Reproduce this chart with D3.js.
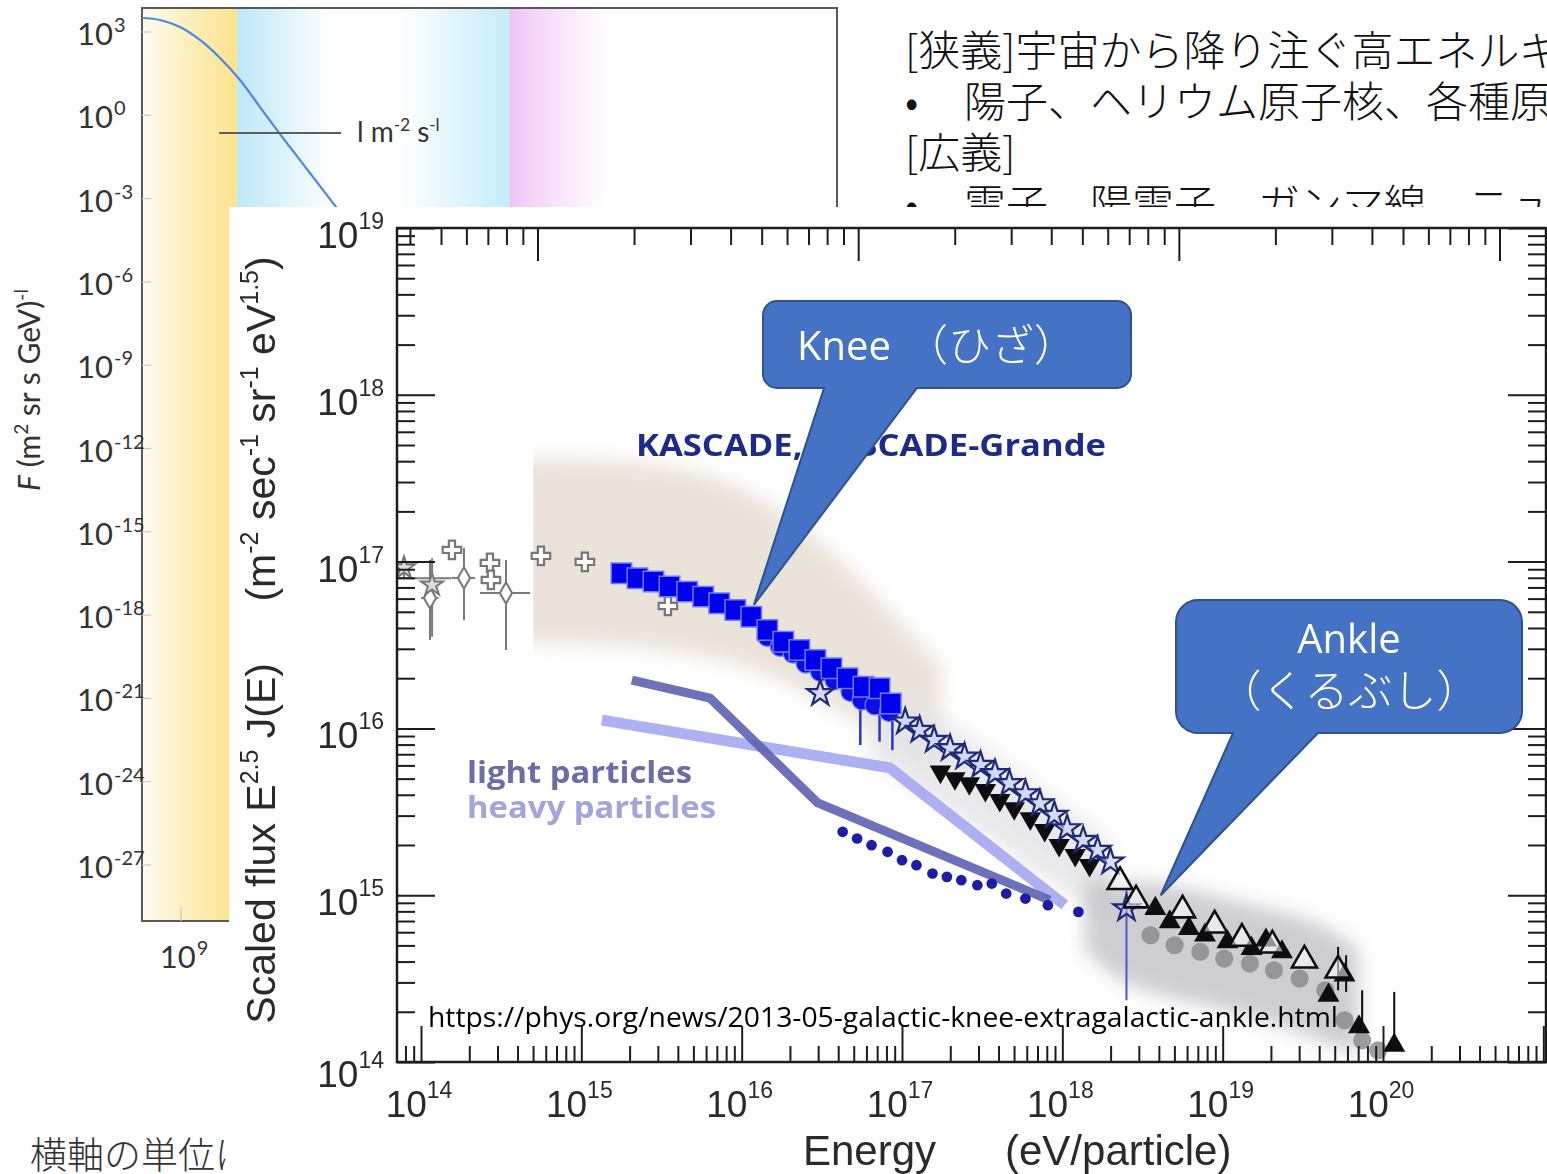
<!DOCTYPE html>
<html>
<head>
<meta charset="utf-8">
<script src="https://cdn.jsdelivr.net/npm/d3@7"></script>
<style>
  html, body { margin: 0; padding: 0; background: #fff; }
  svg { display: block; }
</style>
</head>
<body>
<svg id="chart" width="1547" height="1174"></svg>
<script>
// ---------------- data ----------------
// all-particle spectrum F(E) (background panel), log10 values
const spectrumLogE = [8.304, 8.625, 8.982, 9.339, 9.696, 10.054, 10.411, 10.768, 11.125, 11.839, 12.554];
const spectrumLogF = [3.505, 3.432, 3.180, 2.712, 2.063, 1.270, 0.297, -0.676, -1.613, -3.486, -5.360];
const fluxTickExps = [3, 0, -3, -6, -9, -12, -15, -18, -21, -24, -27];
const energyTickExpsBg = [9];
const bgRegionLogE = [[8.3, 10.0], [10.0, 14.875], [14.875, 16.6]];
const rateMarkLogE = [9.68, 11.86];
const rateMarkLogF = -0.64;

// scaled flux E^2.5 J(E) panel, log10 values
const energyTickExps = [14, 15, 16, 17, 18, 19, 20];
const scaledTickExps = [14, 15, 16, 17, 18, 19];

const crossLogE = [14.193, 14.430, 14.436, 14.748, 15.022, 15.540];
const crossLogF = [17.070, 16.992, 16.890, 17.034, 16.998, 16.734];
const diamondLogE = [14.056, 14.268, 14.530];
const diamondLogF = [16.782, 16.902, 16.812];
const diamondErrLo = [16.530, 16.650, 16.470];
const diamondErrHi = [17.010, 17.082, 17.010];
const diamondErrELo = [14.000, 14.193, 14.368];
const diamondErrEHi = [14.110, 14.337, 14.680];
const greyStarLogE = [13.894, 14.069];
const greyStarLogF = [16.962, 16.860];
const greyStarErrLo = [16.900, 16.550];
const greyStarErrHi = [17.020, 17.020];

const kascadeLogE = [15.25, 15.35, 15.45, 15.55, 15.66, 15.76, 15.86, 15.96, 16.06, 16.16, 16.26, 16.36, 16.46, 16.56, 16.66, 16.76, 16.86, 16.93];
const kascadeLogF = [16.93, 16.90, 16.88, 16.85, 16.82, 16.79, 16.75, 16.71, 16.67, 16.59, 16.52, 16.47, 16.41, 16.36, 16.30, 16.25, 16.24, 16.15];
const kascadeErrLogE = [16.74, 16.86, 16.94];
const kascadeErrLo = [15.90, 15.92, 15.87];
const kascadeErrHi = [16.23, 16.23, 16.17];
const grandeDotLogE = [16.16, 16.24, 16.32, 16.40, 16.49, 16.58, 16.68, 16.75, 16.83, 16.92];
const grandeDotLogF = [16.55, 16.49, 16.45, 16.39, 16.34, 16.29, 16.22, 16.17, 16.14, 16.10];

const grandeLogE = [16.49, 17.02, 17.11, 17.20, 17.30, 17.39, 17.49, 17.58, 17.67, 17.77, 17.86, 17.95, 18.03, 18.13, 18.22, 18.30, 18.40];
const grandeLogF = [16.21, 16.04, 15.99, 15.93, 15.88, 15.83, 15.78, 15.73, 15.67, 15.61, 15.55, 15.48, 15.40, 15.33, 15.27, 15.20, 14.92];
const grandeErrLogE = [18.40];
const grandeErrLo = [14.37];
const grandeErrHi = [15.03];

const invTriLogE = [17.24, 17.33, 17.42, 17.52, 17.61, 17.70, 17.80, 17.89, 17.98, 18.08, 18.17];
const invTriLogF = [15.74, 15.70, 15.67, 15.63, 15.57, 15.52, 15.46, 15.39, 15.30, 15.24, 15.18];

const openTriLogE = [18.36, 18.46, 18.75, 18.95, 19.12, 19.31, 19.51, 19.72];
const openTriLogF = [15.08, 14.97, 14.91, 14.82, 14.74, 14.70, 14.61, 14.55];
const fillTriLogE = [18.58, 18.67, 18.79, 18.89, 19.03, 19.18, 19.27, 19.37, 19.66, 19.76, 19.85, 20.07];
const fillTriLogF = [14.92, 14.84, 14.80, 14.76, 14.72, 14.68, 14.73, 14.66, 14.40, 14.52, 14.21, 14.10];
const ankleErrLogE = [19.72, 19.77, 19.87, 20.07];
const ankleErrLo = [14.43, 14.42, 14.21, 14.10];
const ankleErrHi = [14.69, 14.64, 14.43, 14.42];

const augerLogE = [18.55, 18.70, 18.86, 19.01, 19.17, 19.32, 19.48, 19.64, 19.76, 19.87, 19.97];
const augerLogF = [14.76, 14.70, 14.66, 14.62, 14.59, 14.55, 14.50, 14.43, 14.25, 14.13, 14.07];

const heavyDotLogE = [16.63, 16.72, 16.81, 16.91, 17.00, 17.09, 17.19, 17.28, 17.37, 17.47, 17.56, 17.65, 17.77, 17.91, 18.10];
const heavyDotLogF = [15.38, 15.34, 15.30, 15.26, 15.21, 15.18, 15.13, 15.11, 15.09, 15.06, 15.07, 15.01, 14.98, 14.94, 14.90];

const lightLineLogE = [15.315, 15.802, 16.475, 17.921];
const lightLineLogF = [16.290, 16.182, 15.553, 14.971];
const heavyLineLogE = [15.128, 16.924, 18.015];
const heavyLineLogF = [16.050, 15.763, 14.941];

// shaded uncertainty regions: [logE, upper logF, lower logF]
const kneeBandLogE = [14.60, 15.24, 15.74, 16.11, 16.49, 16.86, 17.24];
const kneeBandHi   = [17.62, 17.61, 17.55, 17.40, 17.13, 16.77, 16.38];
const kneeBandLo   = [16.52, 16.50, 16.44, 16.36, 16.17, 15.96, 15.69];
const kneeBandStartLogE = 14.70;
const grandeBandLogE = [16.80, 17.30, 17.80, 18.30];
const grandeBandHi   = [16.29, 16.05, 15.69, 15.33];
const grandeBandLo   = [15.81, 15.51, 15.15, 14.85];
const ankleBandLogE = [18.14, 18.36, 18.73, 19.17, 19.61, 19.85];
const ankleBandHi   = [15.09, 15.10, 15.06, 14.94, 14.85, 14.67];
const ankleBandLo   = [14.67, 14.46, 14.37, 14.28, 14.13, 14.04];

const kneeTip = [16.076, 16.74];
const ankleTip = [18.614, 15.00];

const PROTON_MASS_GEV = 0.938;

// ---------------- setup ----------------
const svg = d3.select('#chart');
const defs = svg.append('defs');
defs.append('filter').attr('id', 'soft')
  .append('feGaussianBlur').attr('stdDeviation', 0.7);
defs.append('filter').attr('id', 'haze')
  .attr('x', '-30%').attr('y', '-30%').attr('width', '160%').attr('height', '160%')
  .append('feGaussianBlur').attr('stdDeviation', 9);

function hGrad(id, x0, x1, stops) {
  const g = defs.append('linearGradient').attr('id', id)
    .attr('gradientUnits', 'userSpaceOnUse')
    .attr('x1', x0).attr('x2', x1).attr('y1', 0).attr('y2', 0);
  stops.forEach(([o, c]) => g.append('stop').attr('offset', o).attr('stop-color', c));
}
const p10 = v => Math.pow(10, v);

// ---------------- background spectrum panel ----------------
const bgFrame = { left: 142, top: 8, right: 837, bottom: 921 };
const xBg = d3.scaleLog().domain([1e9, 1e21]).range([181, 853]);
const yBg = d3.scaleLog().domain([1e3, 1e-27]).range([32, 865]);

const bg = svg.append('g').attr('class', 'spectrum');
defs.append('clipPath').attr('id', 'bgClip').append('rect')
  .attr('x', bgFrame.left).attr('y', bgFrame.top)
  .attr('width', bgFrame.right - bgFrame.left).attr('height', bgFrame.bottom - bgFrame.top);

const regionStops = [
  [[0, '#fffcf0'], [0.45, '#fdf0c0'], [1, '#fde38c']],
  [[0, '#bde8f7'], [0.35, '#ffffff'], [0.6, '#ffffff'], [1, '#c3ecf8']],
  [[0, '#f0c2f5'], [0.25, '#f5d6f8'], [1, '#ffffff']]
];
bgRegionLogE.forEach(([a, b], i) => {
  const x0 = Math.max(xBg(p10(a)), bgFrame.left), x1 = xBg(p10(b));
  hGrad('region' + i, x0, x1, regionStops[i]);
  bg.append('rect').attr('clip-path', 'url(#bgClip)')
    .attr('x', x0).attr('y', bgFrame.top).attr('width', x1 - x0)
    .attr('height', bgFrame.bottom - bgFrame.top)
    .attr('fill', `url(#region${i})`);
});

bg.append('rect').attr('x', bgFrame.left).attr('y', bgFrame.top)
  .attr('width', bgFrame.right - bgFrame.left).attr('height', bgFrame.bottom - bgFrame.top)
  .attr('fill', 'none').attr('stroke', '#5a5a5a').attr('stroke-width', 2);

// flux tick marks and labels
fluxTickExps.forEach(e => {
  const yy = yBg(p10(e));
  bg.append('line').attr('x1', bgFrame.left).attr('x2', bgFrame.left + 9)
    .attr('y1', yy).attr('y2', yy).attr('stroke', '#c8c8c8').attr('stroke-width', 1.2);
  const t = bg.append('text').attr('x', 77).attr('y', yy + 13)
    .attr('font-family', 'Lato, "Open Sans", sans-serif').attr('font-size', 31).attr('fill', '#333');
  t.append('tspan').text('10');
  t.append('tspan').attr('font-size', 20).attr('dy', -13).attr('dx', 1).text(e);
});
energyTickExpsBg.forEach(e => {
  const xx = xBg(p10(e));
  bg.append('line').attr('x1', xx).attr('x2', xx).attr('y1', bgFrame.bottom - 14).attr('y2', bgFrame.bottom)
    .attr('stroke', '#c8c8c8').attr('stroke-width', 1.2);
  const t = bg.append('text').attr('x', xx + 3).attr('y', 968).attr('text-anchor', 'middle')
    .attr('font-family', 'Lato, "Open Sans", sans-serif').attr('font-size', 31).attr('fill', '#333');
  t.append('tspan').text('10');
  t.append('tspan').attr('font-size', 20).attr('dy', -13).attr('dx', 1).text(e);
});

// the spectrum curve
bg.append('path').attr('clip-path', 'url(#bgClip)')
  .datum(d3.zip(spectrumLogE, spectrumLogF))
  .attr('d', d3.line().x(d => xBg(p10(d[0]))).y(d => yBg(p10(d[1]))).curve(d3.curveCatmullRom.alpha(0.5)))
  .attr('fill', 'none').attr('stroke', '#4d84e6').attr('stroke-width', 2.2);

// 1 particle per m^2 per s marker
bg.append('line')
  .attr('x1', xBg(p10(rateMarkLogE[0]))).attr('x2', xBg(p10(rateMarkLogE[1])))
  .attr('y1', yBg(p10(rateMarkLogF))).attr('y2', yBg(p10(rateMarkLogF)))
  .attr('stroke', '#5e5e5e').attr('stroke-width', 2);
{
  const t = bg.append('text').attr('x', 357).attr('y', 142)
    .attr('font-family', 'Lato, "Open Sans", sans-serif').attr('font-size', 28).attr('fill', '#333');
  t.append('tspan').text('l m');
  t.append('tspan').attr('font-size', 17).attr('dy', -11).text('-2');
  t.append('tspan').attr('dy', 11).text(' s');
  t.append('tspan').attr('font-size', 17).attr('dy', -11).text('-l');
}

// flux axis title
{
  const t = bg.append('text').attr('transform', 'translate(40,390) rotate(-90)')
    .attr('text-anchor', 'middle')
    .attr('font-family', 'Lato, "Open Sans", sans-serif').attr('font-size', 30).attr('fill', '#333');
  t.append('tspan').attr('font-style', 'italic').text('F');
  t.append('tspan').text(' (m');
  t.append('tspan').attr('font-size', 19).attr('dy', -12).text('2');
  t.append('tspan').attr('dy', 12).text(' sr s GeV)');
  t.append('tspan').attr('font-size', 19).attr('dy', -12).text('-l');
}

// ---------------- text on the slide ----------------
const jp = '"Noto Sans CJK JP", "Noto Sans CJK SC", sans-serif';
const slide = svg.append('g').attr('class', 'slide-text')
  .attr('font-family', jp).attr('font-weight', 300).attr('fill', '#111');
slide.append('text').attr('x', 905).attr('y', 66).attr('font-size', 42)
  .text('[狭義]宇宙から降り注ぐ高エネルギーの放射線');
slide.append('text').attr('x', 905).attr('y', 117).attr('font-size', 42).text('•');
slide.append('text').attr('x', 964).attr('y', 117).attr('font-size', 42)
  .text('陽子、ヘリウム原子核、各種原子核');
slide.append('text').attr('x', 905).attr('y', 168).attr('font-size', 42).text('[広義]');
slide.append('text').attr('x', 905).attr('y', 220).attr('font-size', 42).text('•');
slide.append('text').attr('x', 964).attr('y', 220).attr('font-size', 42)
  .text('電子、陽電子、ガンマ線、ニュートリノ');
slide.append('text').attr('x', 30).attr('y', 1169).attr('font-size', 37).attr('fill', '#333')
  .text('横軸の単位は');

// ---------------- scaled flux panel ----------------
svg.append('rect').attr('x', 229).attr('y', 207).attr('width', 1318).attr('height', 967).attr('fill', '#fff');

const plot = { left: 397, top: 228, right: 1546, bottom: 1062 };
const x = d3.scaleLog().domain([1e14, 1e20]).range([421, 1383]);
const y = d3.scaleLog().domain([1e14, 1e19]).range([1062, 228]);
const sqrtS = eV => Math.sqrt(2 * PROTON_MASS_GEV * eV / 1e9);
const xs = d3.scaleLog().domain([sqrtS(1e14), sqrtS(1e20)]).range([421, 1383]);

defs.append('clipPath').attr('id', 'plotClip').append('rect')
  .attr('x', plot.left).attr('y', plot.top)
  .attr('width', plot.right - plot.left).attr('height', plot.bottom - plot.top);
defs.append('clipPath').attr('id', 'kneeClip').append('rect')
  .attr('x', x(p10(kneeBandStartLogE))).attr('y', plot.top)
  .attr('width', plot.right - x(p10(kneeBandStartLogE))).attr('height', plot.bottom - plot.top);

const chart = svg.append('g').attr('class', 'scaled-flux').attr('filter', 'url(#soft)');
const inner = chart.append('g').attr('clip-path', 'url(#plotClip)');

// uncertainty regions
function band(logE, hi, lo, fill, opacity, clip) {
  const area = d3.area()
    .x(d => x(p10(d[0]))).y0(d => y(p10(d[2]))).y1(d => y(p10(d[1])))
    .curve(d3.curveBasis);
  const holder = clip ? inner.append('g').attr('clip-path', `url(#${clip})`) : inner;
  holder.append('path').datum(d3.zip(logE, hi, lo))
    .attr('d', area).attr('fill', fill).attr('opacity', opacity).attr('filter', 'url(#haze)');
}
band(kneeBandLogE, kneeBandHi, kneeBandLo, '#e8e2d8', 0.95, 'kneeClip');
band(grandeBandLogE, grandeBandHi, grandeBandLo, '#e6e6e8', 0.85);
band(ankleBandLogE, ankleBandHi, ankleBandLo, '#c2c2c7', 0.8);

// model lines for light / heavy components
const lineGen = d3.line().x(d => x(p10(d[0]))).y(d => y(p10(d[1])));
inner.append('path').datum(d3.zip(heavyLineLogE, heavyLineLogF)).attr('d', lineGen)
  .attr('fill', 'none').attr('stroke', '#a4a7ef').attr('stroke-width', 11)
  .attr('stroke-linejoin', 'round').attr('opacity', 0.9);
inner.append('path').datum(d3.zip(lightLineLogE, lightLineLogF)).attr('d', lineGen)
  .attr('fill', 'none').attr('stroke', '#5d62b2').attr('stroke-width', 9)
  .attr('stroke-linejoin', 'round').attr('opacity', 0.9);

// markers
function marks(logE, logF, type, size, attrs, rotate = 0) {
  const sel = inner.append('g').selectAll('path').data(d3.zip(logE, logF)).join('path')
    .attr('d', d3.symbol().type(type).size(size)())
    .attr('transform', d => `translate(${x(p10(d[0]))},${y(p10(d[1]))}) rotate(${rotate})`);
  Object.entries(attrs).forEach(([k, v]) => sel.attr(k, v));
}
function vErr(logE, lo, hi, color, w) {
  inner.append('g').selectAll('line').data(d3.zip(logE, lo, hi)).join('line')
    .attr('x1', d => x(p10(d[0]))).attr('x2', d => x(p10(d[0])))
    .attr('y1', d => y(p10(d[1]))).attr('y2', d => y(p10(d[2])))
    .attr('stroke', color).attr('stroke-width', w);
}
function hErr(lo, hi, logF, color, w) {
  inner.append('g').selectAll('line').data(d3.zip(lo, hi, logF)).join('line')
    .attr('x1', d => x(p10(d[0]))).attr('x2', d => x(p10(d[1])))
    .attr('y1', d => y(p10(d[2]))).attr('y2', d => y(p10(d[2])))
    .attr('stroke', color).attr('stroke-width', w);
}

// low-energy direct / air-shower data
vErr(diamondLogE, diamondErrLo, diamondErrHi, '#7a7a7a', 2);
hErr(diamondErrELo, diamondErrEHi, diamondLogF, '#7a7a7a', 2);
vErr(greyStarLogE, greyStarErrLo, greyStarErrHi, '#7a7a7a', 2);
hErr([13.85], [14.19], [16.90], '#7a7a7a', 2);
marks(diamondLogE, diamondLogF, d3.symbolDiamond, 130, { fill: '#fff', stroke: '#777', 'stroke-width': 2 });
marks(greyStarLogE, greyStarLogF, d3.symbolStar, 150, { fill: '#ddd', stroke: '#777', 'stroke-width': 2 });
marks(crossLogE, crossLogF, d3.symbolCross, 190, { fill: '#fff', stroke: '#777', 'stroke-width': 2.2 });

// heavy-component points
marks(heavyDotLogE, heavyDotLogF, d3.symbolCircle, 90, { fill: '#1d1fa6' });

// KASCADE
vErr(kascadeErrLogE, kascadeErrLo, kascadeErrHi, '#2a36c8', 2.5);
marks(grandeDotLogE, grandeDotLogF, d3.symbolCircle, 300, { fill: '#0a0ae6', stroke: '#6f7cff', 'stroke-width': 1.2 });
marks(kascadeLogE, kascadeLogF, d3.symbolSquare, 420, { fill: '#0000ec', stroke: '#6f7cff', 'stroke-width': 1.5 });

// KASCADE-Grande
vErr(grandeErrLogE, grandeErrLo, grandeErrHi, '#4b57d0', 2);
marks(invTriLogE, invTriLogF, d3.symbolTriangle, 200, { fill: '#111' }, 180);
marks(grandeLogE, grandeLogF, d3.symbolStar, 210, { fill: 'rgba(190,200,255,0.5)', stroke: '#1d2a78', 'stroke-width': 2.2 });

// ankle region
marks(augerLogE, augerLogF, d3.symbolCircle, 260, { fill: '#8d8d8f', opacity: 0.85 });
vErr(ankleErrLogE, ankleErrLo, ankleErrHi, '#111', 2);
marks(fillTriLogE, fillTriLogF, d3.symbolTriangle, 210, { fill: '#111' });
marks(openTriLogE, openTriLogF, d3.symbolTriangle, 270, { fill: 'rgba(255,255,255,0.55)', stroke: '#111', 'stroke-width': 2.6 });

// ---- axes ----
function logTicks(scale, lo, hi, d0, d1) {
  const major = [], minor = [];
  for (let d = d0; d <= d1; d++) for (let m = 1; m <= 9; m++) {
    const v = m * p10(d), p = scale(v);
    if (p >= lo - 0.5 && p <= hi + 0.5) (m === 1 ? major : minor).push(v);
  }
  return { major, minor };
}
const tickStyle = g => {
  g.select('.domain').remove();
  g.selectAll('line').attr('stroke', '#1e1e1e').attr('stroke-width', 2);
};
const eT = logTicks(x, plot.left, plot.right, 13, 21);
const sT = logTicks(xs, plot.left, plot.right, 2, 6);
const fT = logTicks(y, plot.top, plot.bottom, 14, 19);
const axes = chart.append('g');
axes.append('g').attr('transform', `translate(0,${plot.bottom})`)
  .call(d3.axisBottom(x).tickValues(eT.major).tickSize(-36).tickFormat('')).call(tickStyle);
axes.append('g').attr('transform', `translate(0,${plot.bottom})`)
  .call(d3.axisBottom(x).tickValues(eT.minor).tickSize(-16).tickFormat('')).call(tickStyle);
axes.append('g').attr('transform', `translate(0,${plot.top})`)
  .call(d3.axisTop(xs).tickValues(sT.major).tickSize(-33).tickFormat('')).call(tickStyle);
axes.append('g').attr('transform', `translate(0,${plot.top})`)
  .call(d3.axisTop(xs).tickValues(sT.minor).tickSize(-17).tickFormat('')).call(tickStyle);
axes.append('g').attr('transform', `translate(${plot.left},0)`)
  .call(d3.axisLeft(y).tickValues(fT.major).tickSize(-38).tickFormat('')).call(tickStyle);
axes.append('g').attr('transform', `translate(${plot.left},0)`)
  .call(d3.axisLeft(y).tickValues(fT.minor).tickSize(-18).tickFormat('')).call(tickStyle);
axes.append('g').attr('transform', `translate(${plot.right},0)`)
  .call(d3.axisRight(y).tickValues(fT.major).tickSize(-38).tickFormat('')).call(tickStyle);
axes.append('g').attr('transform', `translate(${plot.right},0)`)
  .call(d3.axisRight(y).tickValues(fT.minor).tickSize(-18).tickFormat('')).call(tickStyle);
axes.append('rect').attr('x', plot.left).attr('y', plot.top)
  .attr('width', plot.right - plot.left).attr('height', plot.bottom - plot.top)
  .attr('fill', 'none').attr('stroke', '#1e1e1e').attr('stroke-width', 2.5);

const sans = '"Liberation Sans", Arial, Helvetica, sans-serif';
const labels = chart.append('g').attr('font-family', sans).attr('fill', '#2b2b2b');
energyTickExps.forEach(e => {
  const t = labels.append('text').attr('x', x(p10(e)) - 2).attr('y', 1117)
    .attr('text-anchor', 'middle').attr('font-size', 37);
  t.append('tspan').text('10');
  t.append('tspan').attr('font-size', 23).attr('dy', -19).text(e);
});
scaledTickExps.forEach(e => {
  const t = labels.append('text').attr('x', 384).attr('y', y(p10(e)) + 20 + (e === 14 ? 5 : 0))
    .attr('text-anchor', 'end').attr('font-size', 37);
  t.append('tspan').text('10');
  t.append('tspan').attr('font-size', 23).attr('dy', -19).text(e);
});

// axis titles
{
  const t = labels.append('text').attr('transform', 'translate(275,640) rotate(-90)')
    .attr('text-anchor', 'middle').attr('font-size', 41);
  const parts = [['Scaled flux E', 0], ['2.5', 1], [' J(E)\u2003\u2002(m', 0], ['-2', 1], [' sec', 0], ['-1', 1],
                 [' sr', 0], ['-1', 1], [' eV', 0], ['1.5', 1], [')', 0]];
  let raised = 0;
  parts.forEach(([s, sup]) => {
    const ts = t.append('tspan').text(s);
    if (sup) ts.attr('font-size', 25);
    if (sup !== raised) ts.attr('dy', sup ? -17 : 17);
    raised = sup;
  });
}
labels.append('text').attr('x', 803).attr('y', 1165).attr('font-size', 42).text('Energy');
labels.append('text').attr('x', 1005).attr('y', 1165).attr('font-size', 42).text('(eV/particle)');

// in-plot labels
const bold = '"Open Sans", "Noto Sans", sans-serif';
chart.append('text').attr('x', 636).attr('y', 456).attr('font-family', bold).attr('font-weight', 700)
  .attr('font-size', 31).attr('fill', '#1f2c8a').attr('textLength', 470).attr('lengthAdjust', 'spacingAndGlyphs')
  .text('KASCADE, KASCADE-Grande');
chart.append('text').attr('x', 467).attr('y', 783).attr('font-family', bold).attr('font-weight', 700)
  .attr('font-size', 31).attr('fill', '#6a6da8').attr('textLength', 225).attr('lengthAdjust', 'spacingAndGlyphs')
  .text('light particles');
chart.append('text').attr('x', 467).attr('y', 818).attr('font-family', bold).attr('font-weight', 700)
  .attr('font-size', 31).attr('fill', '#a2a4dc').attr('textLength', 249).attr('lengthAdjust', 'spacingAndGlyphs')
  .text('heavy particles');

// source
svg.append('text').attr('x', 428).attr('y', 1027).attr('font-family', bold).attr('font-size', 27)
  .attr('fill', '#000').attr('textLength', 910).attr('lengthAdjust', 'spacingAndGlyphs')
  .text('https://phys.org/news/2013-05-galactic-knee-extragalactic-ankle.html');

// ---------------- callouts ----------------
function calloutPath(x0, y0, x1, y1, r, w0, w1, tx, ty) {
  return `M${x0 + r},${y0} H${x1 - r} A${r},${r} 0 0 1 ${x1},${y0 + r} V${y1 - r} ` +
         `A${r},${r} 0 0 1 ${x1 - r},${y1} H${w1} L${tx},${ty} L${w0},${y1} H${x0 + r} ` +
         `A${r},${r} 0 0 1 ${x0},${y1 - r} V${y0 + r} A${r},${r} 0 0 1 ${x0 + r},${y0} Z`;
}
const call = svg.append('g').attr('class', 'callouts');
call.append('path')
  .attr('d', calloutPath(763, 301, 1131, 388, 14, 824, 917, x(p10(kneeTip[0])), y(p10(kneeTip[1]))))
  .attr('fill', '#4472c4').attr('stroke', '#2f528f').attr('stroke-width', 2);
call.append('path')
  .attr('d', calloutPath(1176, 600, 1522, 733, 22, 1233, 1318, x(p10(ankleTip[0])), y(p10(ankleTip[1]))))
  .attr('fill', '#4472c4').attr('stroke', '#2f528f').attr('stroke-width', 2);
const cfont = '"Open Sans", "Noto Sans CJK JP", sans-serif';
call.append('text').attr('x', 797).attr('y', 360).attr('font-family', cfont).attr('font-size', 40)
  .attr('fill', '#fff').text('Knee');
call.append('text').attr('x', 905).attr('y', 361).attr('font-family', jp).attr('font-weight', 300)
  .attr('font-size', 43).attr('fill', '#fff').text('（ひざ）');
call.append('text').attr('x', 1349).attr('y', 653).attr('text-anchor', 'middle').attr('font-family', cfont)
  .attr('font-size', 40).attr('fill', '#fff').text('Ankle');
call.append('text').attr('x', 1349).attr('y', 707).attr('text-anchor', 'middle').attr('font-family', jp)
  .attr('font-weight', 300).attr('font-size', 44).attr('fill', '#fff').text('（くるぶし）');
</script>
</body>
</html>
